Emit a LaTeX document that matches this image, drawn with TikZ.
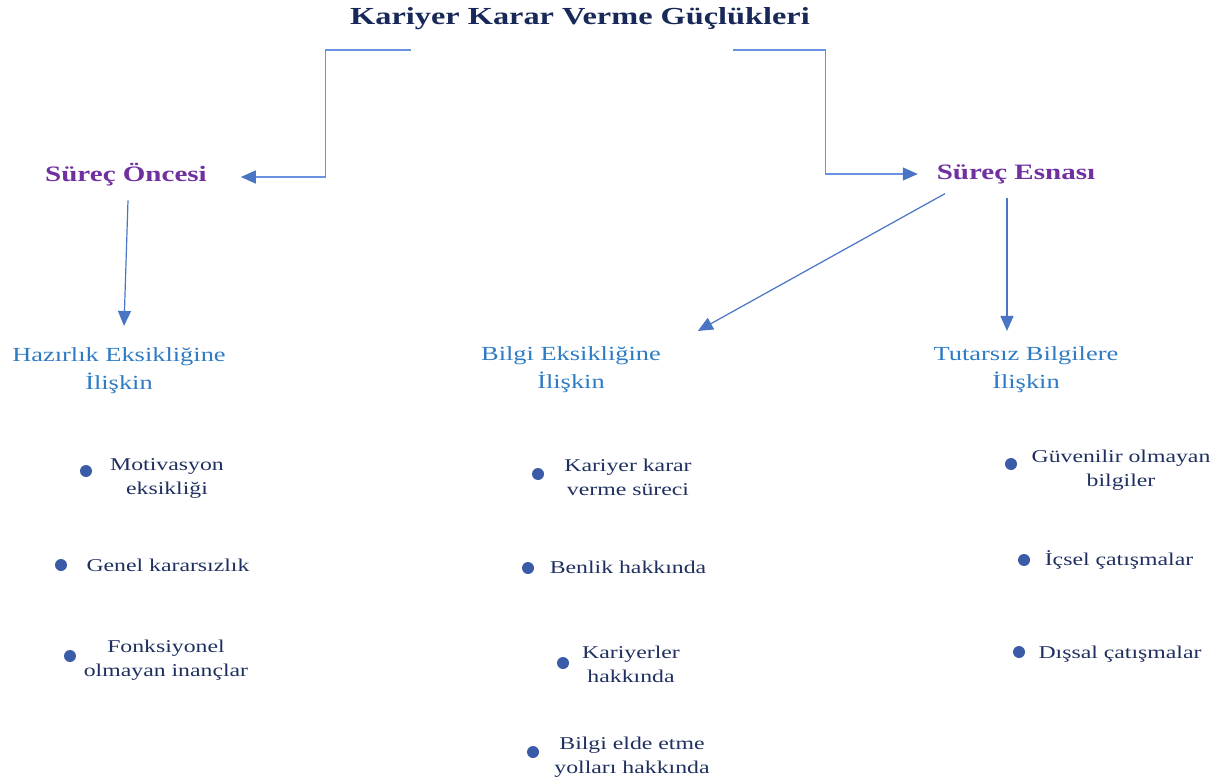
\documentclass[tikz,border=0pt]{standalone}
\usepackage{fontspec}
\setmainfont{Liberation Serif}[FakeStretch=1.32]
\usetikzlibrary{arrows.meta,calc}
\definecolor{titlecol}{HTML}{182858}
\definecolor{purp}{HTML}{7030A0}
\definecolor{subblue}{HTML}{2E7BC4}
\definecolor{itemcol}{HTML}{1F3060}
\definecolor{dotcol}{HTML}{3A5CA8}
\definecolor{arrcol}{HTML}{4A74C4}
\definecolor{elbcol}{HTML}{6A92E0}
\tikzset{
  txt/.style={inner sep=0pt, outer sep=0pt, align=center},
  titlenode/.style={txt, text=titlecol, font=\fontsize{24.5}{28}\selectfont\bfseries},
  phase/.style={txt, text=purp, font=\fontsize{22}{26}\selectfont\bfseries},
  cat/.style={txt, text=subblue, font=\fontsize{20}{28}\selectfont},
  itemtxt/.style={txt, text=itemcol, font=\fontsize{18}{24}\selectfont},
  dot/.style={circle, fill=dotcol, inner sep=0pt, minimum size=12pt},
  arr/.style={draw=arrcol, line width=1.2pt, -{Triangle[length=15pt,width=13pt]}},
  elb/.style={draw=elbcol, line width=1.3pt, -{Triangle[length=15pt,width=13pt,color=arrcol]}}
}
\begin{document}
\begin{tikzpicture}[x=1pt,y=-1pt]
\useasboundingbox (0,0) rectangle (1226,778);
% title and phases
\node[titlenode] (title) at (580,19) {Kariyer Karar Verme Güçlükleri};
\node[phase] (so) at (126,175) {Süreç Öncesi};
\node[phase] (se) at (1016,174) {Süreç Esnası};
% categories
\node[cat] (hz) at (119,371) {Hazırlık Eksikliğine\\İlişkin};
\node[cat] (bg) at (571,370) {Bilgi Eksikliğine\\İlişkin};
\node[cat] (tt) at (1026,370) {Tutarsız Bilgilere\\İlişkin};
% connector start points below the title
\coordinate (tl) at (411,50);
\coordinate (tr) at (733,50);
% elbow connectors
\draw[elb] (tl) -| ([xshift=119pt,yshift=-2pt]so.east) -- ([xshift=34pt,yshift=-2pt]so.east);
\draw[elb] (tr) -| ([xshift=-111pt]se.west) -- ([xshift=-19pt]se.west);
% straight arrows
\draw[arr] ([xshift=2pt,yshift=-14pt]so.south) -- ([xshift=5pt,yshift=22pt]hz.north);
\draw[arr] ([xshift=-71pt,yshift=-10pt]se.south) -- ([xshift=37pt,yshift=16pt]bg.north east);
\draw[arr] ([xshift=-9pt,yshift=-14pt]se.south) -- ([xshift=-19pt,yshift=16pt]tt.north);
% items: left
\node[itemtxt] (m1) at (167,478) {Motivasyon\\eksikliği};
\node[dot] (m1d) at (86,471) {};
\node[itemtxt] (m2) at (168,565) {Genel kararsızlık};
\node[dot] (m2d) at (61,565) {};
\node[itemtxt] (m3) at (166,660) {Fonksiyonel\\olmayan inançlar};
\node[dot] (m3d) at (70,656) {};
% items: middle
\node[itemtxt] (b1) at (628,477) {Kariyer karar\\verme süreci};
\node[dot] (b1d) at (538,474) {};
\node[itemtxt] (b2) at (628,567) {Benlik hakkında};
\node[dot] (b2d) at (528,568) {};
\node[itemtxt] (b3) at (631,664) {Kariyerler\\hakkında};
\node[dot] (b3d) at (563,663) {};
\node[itemtxt] (b4) at (632,757) {Bilgi elde etme\\yolları hakkında};
\node[dot] (b4d) at (533,752) {};
% items: right
\node[itemtxt] (t1) at (1121,470) {Güvenilir olmayan\\bilgiler};
\node[dot] (t1d) at (1011,464) {};
\node[itemtxt] (t2) at (1119,560) {İçsel çatışmalar};
\node[dot] (t2d) at (1024,560) {};
\node[itemtxt] (t3) at (1120,654) {Dışsal çatışmalar};
\node[dot] (t3d) at (1019,652) {};
\end{tikzpicture}
\end{document}
